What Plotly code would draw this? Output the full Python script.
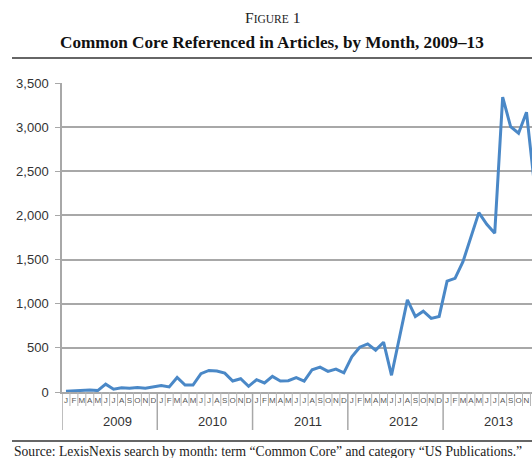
import plotly.graph_objects as go

# ---- data ----
years = ["2009", "2010", "2011", "2012", "2013"]
month_letters = ["J", "F", "M", "A", "M", "J", "J", "A", "S", "O", "N", "D"]
v2009 = [8, 12, 16, 23, 16, 89, 31, 47, 43, 50, 43, 58]
v2010 = [74, 58, 165, 78, 78, 208, 244, 237, 214, 124, 150, 64]
v2011 = [139, 102, 177, 124, 128, 162, 124, 252, 282, 233, 259, 217]
v2012 = [399, 507, 545, 474, 564, 189, 617, 1043, 856, 916, 833, 856]
v2013 = [1255, 1288, 1476, 1741, 2032, 1900, 1798, 3339, 3006, 2931, 3169, 2350]
y_ticks = [0, 500, 1000, 1500, 2000, 2500, 3000, 3500]

values = v2009 + v2010 + v2011 + v2012 + v2013
idx = list(range(len(values)))
letters = month_letters * len(years)

W, H = 532, 458
L, R, T, B = 62, 0, 83, 458 - 392
PW, PH = W - L - R, H - T - B
MONTH_PX = 7.94


def px_x(px):
    return (px - L) / PW


def px_y(py):
    return (H - B - py) / PH


fig = go.Figure()
fig.add_trace(go.Scatter(
    x=idx, y=values, mode="lines",
    line=dict(color="#4a88c7", width=3),
    hoverinfo="skip", showlegend=False,
))

shapes = []
for i in range(1, len(values)):
    is_year = (i % 12 == 0)
    shapes.append(dict(
        type="line", xref="x", yref="paper",
        x0=i - 0.5, x1=i - 0.5, y0=0,
        y1=px_y(430) if is_year else px_y(406),
        line=dict(color="#a8a8a8" if is_year else "#b4b4b4",
                  width=1.5 if is_year else 1),
    ))
shapes.append(dict(type="line", xref="x", yref="paper", x0=-0.5, x1=-0.5,
                   y0=0, y1=px_y(430), line=dict(color="#a8a8a8", width=1.5)))
shapes.append(dict(type="line", xref="paper", yref="paper", x0=px_x(12), x1=1.0,
                   y0=px_y(58), y1=px_y(58), line=dict(color="#333", width=1.5)))
shapes.append(dict(type="line", xref="paper", yref="paper", x0=px_x(12), x1=1.0,
                   y0=px_y(441), y1=px_y(441), line=dict(color="#333", width=1.5)))

annotations = []
for k, yr in enumerate(years):
    annotations.append(dict(
        text=yr, xref="x", yref="paper", x=12 * k + 6.5, y=px_y(421),
        showarrow=False, xanchor="center", yanchor="middle",
        font=dict(family="Liberation Sans, Arial", size=13, color="#333"),
    ))
annotations.append(dict(
    text="F<span style='font-size:11.5px'>IGURE</span> 1",
    xref="paper", yref="paper", x=px_x(272), y=px_y(18),
    showarrow=False, xanchor="center", yanchor="middle",
    font=dict(family="Liberation Serif, serif", size=15.5, color="#222"),
))
annotations.append(dict(
    text="<b>Common Core Referenced in Articles, by Month, 2009–13</b>",
    xref="paper", yref="paper", x=px_x(272), y=px_y(43),
    showarrow=False, xanchor="center", yanchor="middle",
    font=dict(family="Liberation Serif, serif", size=17.2, color="#111"),
))
annotations.append(dict(
    text="Source: LexisNexis search by month: term “Common Core” and category “US Publications.”",
    xref="paper", yref="paper", x=px_x(12), y=px_y(451),
    showarrow=False, xanchor="left", yanchor="middle",
    font=dict(family="Liberation Serif, serif", size=13.6, color="#222"),
))

fig.update_layout(
    width=W, height=H,
    margin=dict(l=L, r=R, t=T, b=B, pad=0),
    paper_bgcolor="white", plot_bgcolor="white",
    shapes=shapes, annotations=annotations,
    xaxis=dict(
        range=[-0.5, PW / MONTH_PX - 0.5],
        tickmode="array", tickvals=idx, ticktext=letters, ticks="",
        tickfont=dict(family="Liberation Sans, Arial", size=8, color="#555"),
        tickangle=0, showgrid=False, zeroline=False,
        showline=True, linecolor="#a8a8a8", linewidth=1.5,
        fixedrange=True,
    ),
    yaxis=dict(
        range=[0, 3500], tickmode="array", tickvals=y_ticks,
        tickformat=",", ticks="outside", ticklen=5, tickcolor="#a8a8a8",
        ticklabelstandoff=4,
        tickfont=dict(family="Liberation Sans, Arial", size=13, color="#333"),
        showgrid=True, gridcolor="#a8a8a8", gridwidth=1.5,
        showline=True, linecolor="#a8a8a8", linewidth=1.5, zeroline=False,
        fixedrange=True,
    ),
)

fig.write_html(
    "out.html",
    config={"displayModeBar": False},
    post_script="document.body.style.margin='0px';document.body.style.overflow='hidden';",
)
